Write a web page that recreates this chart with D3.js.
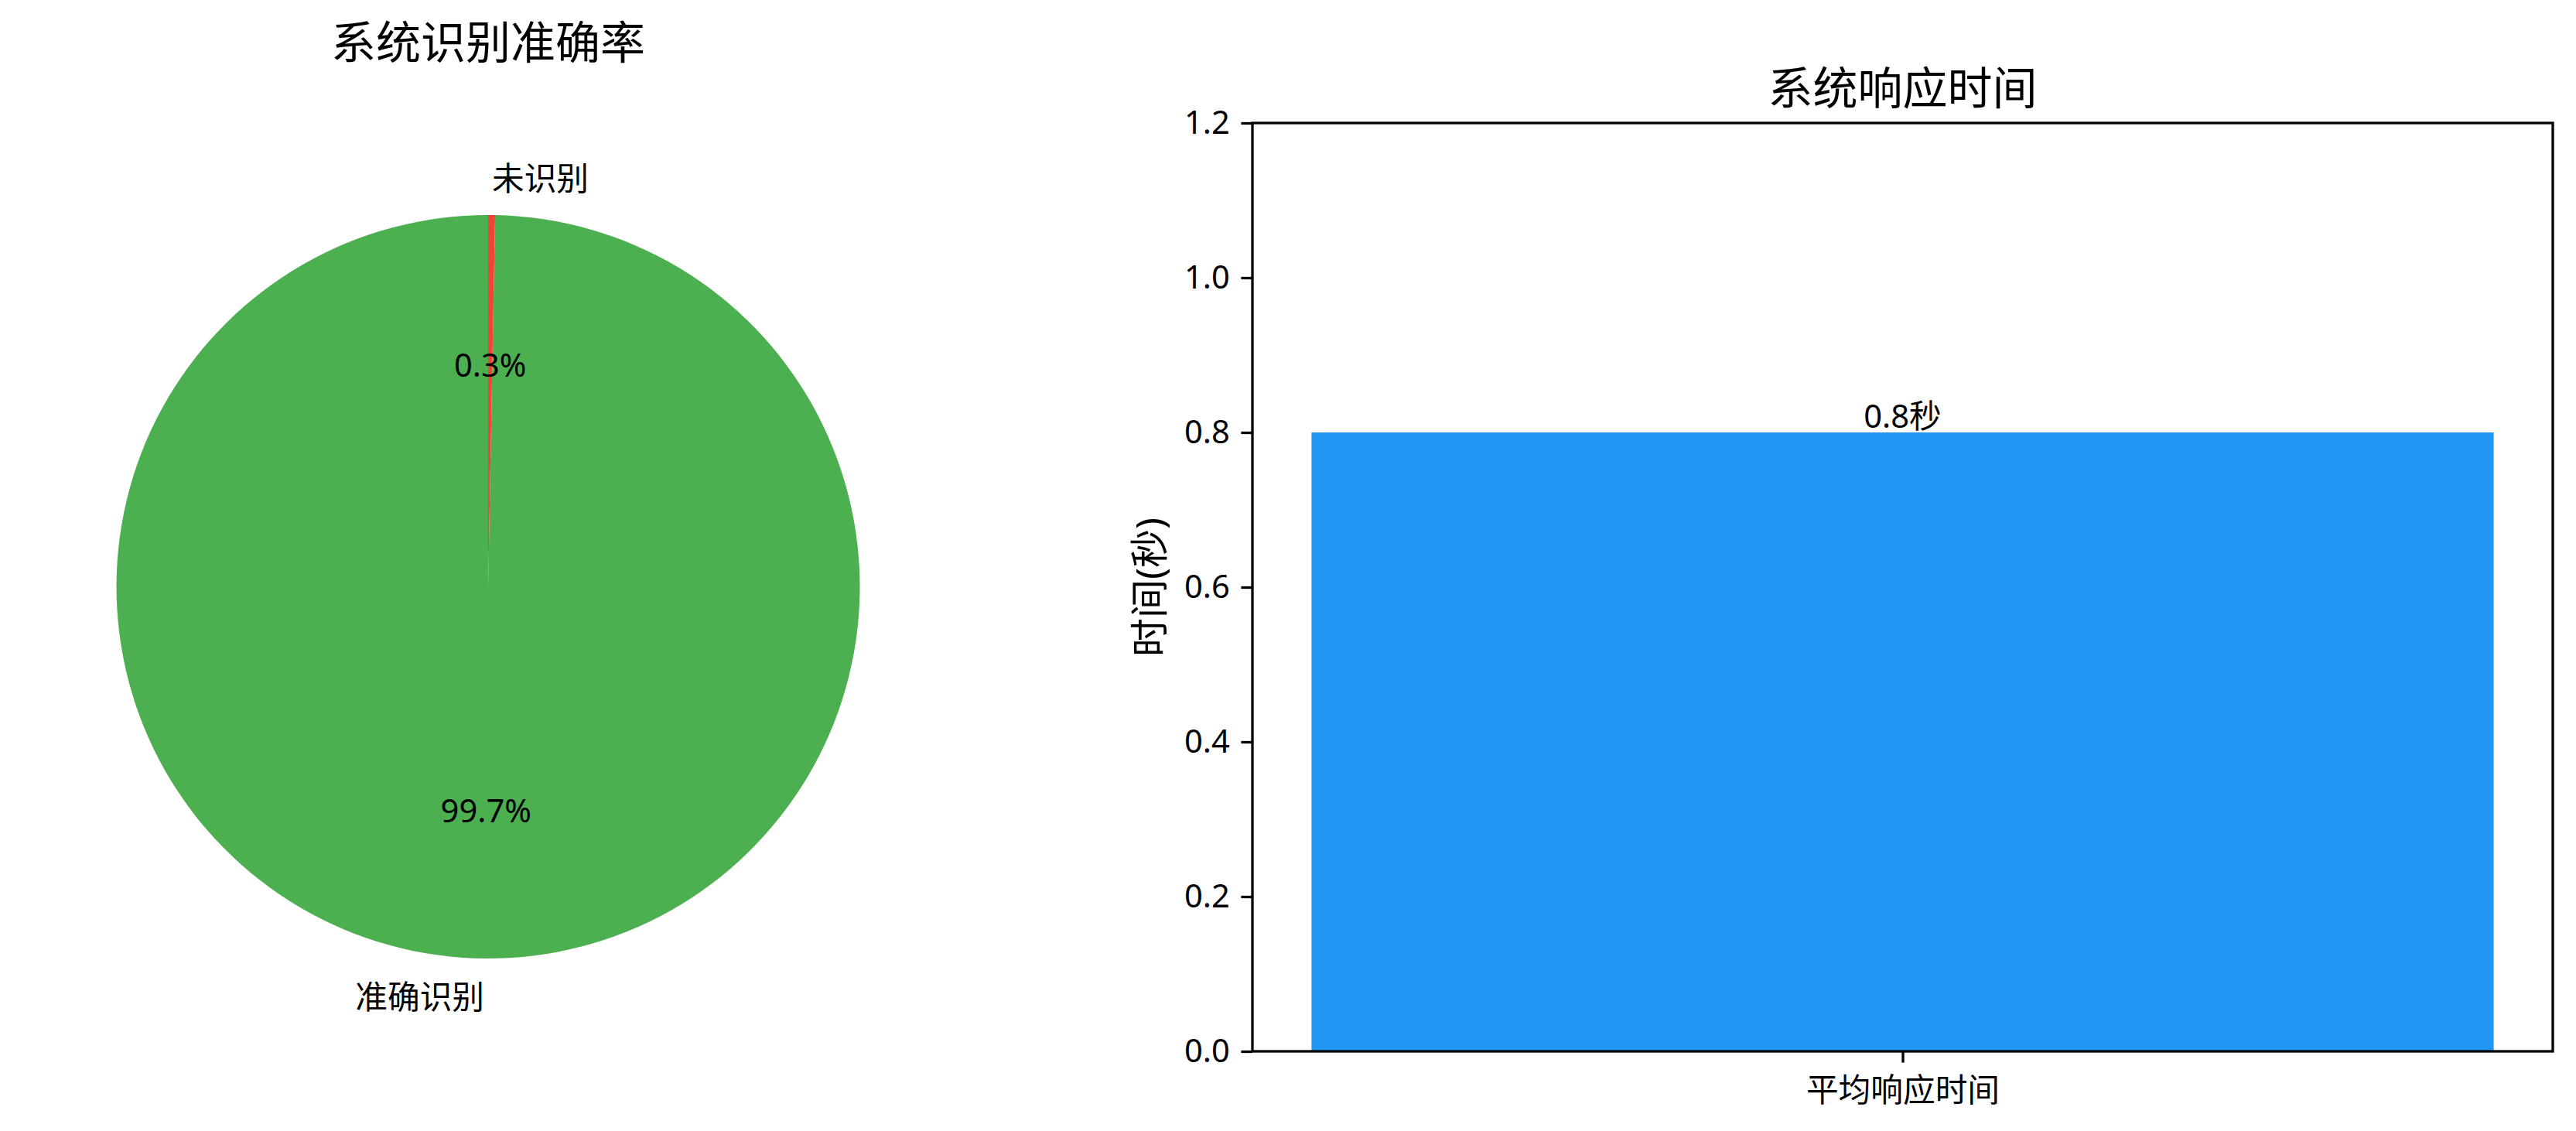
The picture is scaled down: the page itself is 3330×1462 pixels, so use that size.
<!DOCTYPE html>
<html lang="zh">
<head>
    <meta charset="UTF-8">
    <title>系统识别准确率 / 系统响应时间</title>
    <script src="https://cdn.jsdelivr.net/npm/d3@7"></script>
    <style>
        body { margin: 0; background: #fff; }
        svg text { font-family: "Noto Sans", "Noto Sans CJK SC", sans-serif; fill: #000; }
    </style>
</head>
<body>
<script>

    // Data ////////////////////////////////////
    var pieLabels = ['准确识别', '未识别'];
    var pieValues = [99.7, 0.3];
    var pieColors = ['#4CAF50', '#F44336'];

    var barCategories = ['平均响应时间'];
    var barValues = [0.8];
    var barColor = '#2196F3';
    var yTicks = [0.0, 0.2, 0.4, 0.6, 0.8, 1.0, 1.2];

    // Layout ////////////////////////////////////
    var width = 3330, height = 1462;
    var tickFont = 41.7, titleFont = 58, labelFont = 50;
    var lineW = 3.3, tickLen = 14.6;

    var svg = d3.select('body').append('svg')
            .attr('width', width).attr('height', height);

    //________________________________________________
    // Pie
    //________________________________________________
    var pieCx = 631, pieCy = 758.5, pieR = 480.5;

    svg.append('text')
            .attr('x', pieCx).attr('y', 76)
            .attr('text-anchor', 'middle')
            .style('font-size', titleFont + 'px')
            .text('系统识别准确率');

    // matplotlib style: start at top, counterclockwise
    var pie = d3.pie().sort(null).startAngle(0).endAngle(-2 * Math.PI);
    var arcs = pie(pieValues);
    var arc = d3.arc().innerRadius(0).outerRadius(pieR);

    var pieG = svg.append('g').attr('transform', 'translate(' + pieCx + ',' + pieCy + ')');

    pieG.selectAll('path.slice')
            .data(arcs)
            .enter().append('path')
            .attr('class', 'slice')
            .attr('d', arc)
            .attr('fill', function (d, i) { return pieColors[i]; });

    function midAngle(d) { return (d.startAngle + d.endAngle) / 2; }

    // Outer labels
    pieG.selectAll('text.pie-label')
            .data(arcs)
            .enter().append('text')
            .attr('class', 'pie-label')
            .attr('x', function (d) { return 1.1 * pieR * Math.sin(midAngle(d)); })
            .attr('y', function (d) { return -1.1 * pieR * Math.cos(midAngle(d)); })
            .attr('dominant-baseline', 'central')
            .attr('text-anchor', function (d) { return Math.sin(midAngle(d)) > 0 ? 'start' : 'end'; })
            .style('font-size', tickFont + 'px')
            .text(function (d, i) { return pieLabels[i]; });

    // Percent labels
    pieG.selectAll('text.pie-pct')
            .data(arcs)
            .enter().append('text')
            .attr('class', 'pie-pct')
            .attr('x', function (d) { return 0.6 * pieR * Math.sin(midAngle(d)); })
            .attr('y', function (d) { return -0.6 * pieR * Math.cos(midAngle(d)); })
            .attr('dominant-baseline', 'central')
            .attr('text-anchor', 'middle')
            .style('font-size', tickFont + 'px')
            .text(function (d) { return d3.format('.1f')(d.value) + '%'; });

    //________________________________________________
    // Bar
    //________________________________________________
    var ax = {left: 1619, right: 3300, top: 159, bottom: 1359};
    var barWidth = 0.8;
    var xPad = 0.05 * ((barCategories.length - 1) + barWidth);

    var x = d3.scaleLinear()
            .domain([-barWidth / 2 - xPad, barCategories.length - 1 + barWidth / 2 + xPad])
            .range([ax.left, ax.right]);
    var y = d3.scaleLinear()
            .domain([0, d3.max(yTicks)])
            .range([ax.bottom, ax.top]);

    svg.append('text')
            .attr('x', (ax.left + ax.right) / 2).attr('y', 135)
            .attr('text-anchor', 'middle')
            .style('font-size', titleFont + 'px')
            .text('系统响应时间');

    svg.selectAll('rect.bar')
            .data(barValues)
            .enter().append('rect')
            .attr('class', 'bar')
            .attr('x', function (d, i) { return x(i - barWidth / 2); })
            .attr('width', function (d, i) { return x(i + barWidth / 2) - x(i - barWidth / 2); })
            .attr('y', function (d) { return y(d); })
            .attr('height', function (d) { return y(0) - y(d); })
            .attr('fill', barColor);

    svg.selectAll('text.bar-label')
            .data(barValues)
            .enter().append('text')
            .attr('class', 'bar-label')
            .attr('x', function (d, i) { return x(i); })
            .attr('y', function (d) { return y(d) - 6; })
            .attr('text-anchor', 'middle')
            .style('font-size', tickFont + 'px')
            .text(function (d) { return d3.format('.1f')(d) + '秒'; });

    // Axes
    var yAxis = d3.axisLeft(y)
            .tickValues(yTicks)
            .tickFormat(d3.format('.1f'))
            .tickSize(tickLen).tickSizeOuter(0).tickPadding(tickLen);
    var yG = svg.append('g').attr('transform', 'translate(' + ax.left + ',0)').call(yAxis);

    var xAxis = d3.axisBottom(x)
            .tickValues(d3.range(barCategories.length))
            .tickFormat(function (i) { return barCategories[i]; })
            .tickSize(tickLen).tickSizeOuter(0).tickPadding(tickLen);
    var xG = svg.append('g').attr('transform', 'translate(0,' + ax.bottom + ')').call(xAxis);

    [yG, xG].forEach(function (g) {
        g.select('.domain').remove();
        g.selectAll('line').attr('stroke', '#000').attr('stroke-width', lineW);
        g.selectAll('text').attr('fill', '#000').style('font-size', tickFont + 'px')
                .style('font-family', '"Noto Sans", "Noto Sans CJK SC", sans-serif');
    });
    xG.selectAll('text').attr('dy', '0.86em');

    // Spines
    svg.append('rect')
            .attr('x', ax.left).attr('y', ax.top)
            .attr('width', ax.right - ax.left).attr('height', ax.bottom - ax.top)
            .attr('fill', 'none').attr('stroke', '#000').attr('stroke-width', lineW);

    // Y label
    svg.append('text')
            .attr('transform', 'translate(1504,' + (ax.top + ax.bottom) / 2 + ') rotate(-90)')
            .attr('text-anchor', 'middle')
            .style('font-size', labelFont + 'px')
            .text('时间(秒)');

</script>
</body>
</html>
